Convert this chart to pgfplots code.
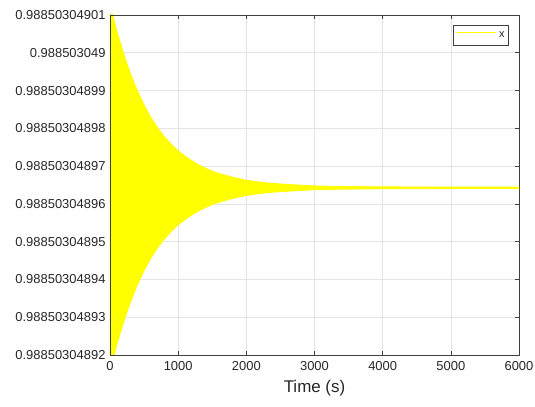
\documentclass[border=0pt]{standalone}
\usepackage{fontspec}
\setmainfont{Liberation Sans}
\usepackage{pgfplots}
\pgfplotsset{compat=1.18}
\definecolor{axgray}{RGB}{64,64,64}
\definecolor{txtgray}{RGB}{38,38,38}
\definecolor{gridgray}{RGB}{228,228,228}
\definecolor{pureyellow}{RGB}{255,255,0}
\begin{document}
\begin{tikzpicture}
\begin{axis}[name=ax, scale only axis, width=409bp, height=340bp,
  xmin=0, xmax=6000, ymin=2, ymax=11,
  xtick={0,1000,...,6000}, ytick={2,3,...,11},
  yticklabels={0.98850304892,0.98850304893,0.98850304894,0.98850304895,0.98850304896,0.98850304897,0.98850304898,0.98850304899,0.988503049,0.98850304901},
  scaled x ticks=false, /pgf/number format/1000 sep={},
  /pgf/number format/assume math mode=true,
  tick align=inside, major tick length=4bp,
  grid=major, major grid style={color=gridgray, line width=0.6bp},
  axis line style={color=axgray, line width=0.6bp},
  tick style={color=axgray, line width=0.6bp},
  ticklabel style={font=\fontsize{13}{15}\selectfont, color=txtgray},
  yticklabel style={xshift=-1bp},
  xticklabel style={yshift=-3bp},
  xlabel={Time (s)}, xlabel style={font=\fontsize{17}{19}\selectfont, color=txtgray, yshift=-3bp},
  legend style={at={(0.9755,0.971)}, anchor=north east, draw=axgray, line width=0.6bp,
    font=\fontsize{11}{13}\selectfont, text=txtgray, inner xsep=2bp, inner ysep=4.5bp},
  legend cell align=left,
  legend image code/.code={\draw[pureyellow, line width=1.6bp] (0bp,2.8bp) -- (40bp,2.8bp);},
]
\addplot[fill=pureyellow, draw=pureyellow, line width=0.8bp, forget plot] coordinates {
(0,11.325) (50,10.925) (100,10.575) (150,10.275) (200,9.975) (250,9.705) (300,9.455)
(350,9.225) (400,9.005) (450,8.805) (500,8.615) (600,8.285) (700,8.005) (800,7.775)
(900,7.575) (1000,7.405) (1100,7.265) (1200,7.145) (1300,7.035) (1400,6.945)
(1500,6.865) (1600,6.805) (1800,6.705) (2000,6.625) (2200,6.575) (2400,6.54)
(2600,6.515) (2800,6.495) (3000,6.475) (3300,6.465) (3600,6.457) (4000,6.451)
(5000,6.445) (6000,6.445)
(6000,6.405) (5000,6.405) (4000,6.399) (3600,6.393) (3300,6.385) (3000,6.375)
(2800,6.355) (2600,6.335) (2400,6.31) (2200,6.275) (2000,6.225) (1800,6.145)
(1600,6.045) (1500,5.985) (1400,5.905) (1300,5.815) (1200,5.705) (1100,5.585)
(1000,5.445) (900,5.275) (800,5.075) (700,4.845) (600,4.565) (500,4.235) (450,4.045)
(400,3.845) (350,3.625) (300,3.395) (250,3.145) (200,2.875) (150,2.575) (100,2.275)
(50,1.925) (0,1.525)
};
\addlegendimage{pureyellow, line width=1.6bp}
\addlegendentry{x}
\draw[axgray, line width=0.6bp] (rel axis cs:0,0) rectangle (rel axis cs:1,1);
\end{axis}
\pgfresetboundingbox
\path[use as bounding box] ([xshift=-110bp,yshift=-52bp]ax.south west) rectangle ([xshift=16bp,yshift=15bp]ax.north east);
\end{tikzpicture}
\end{document}
